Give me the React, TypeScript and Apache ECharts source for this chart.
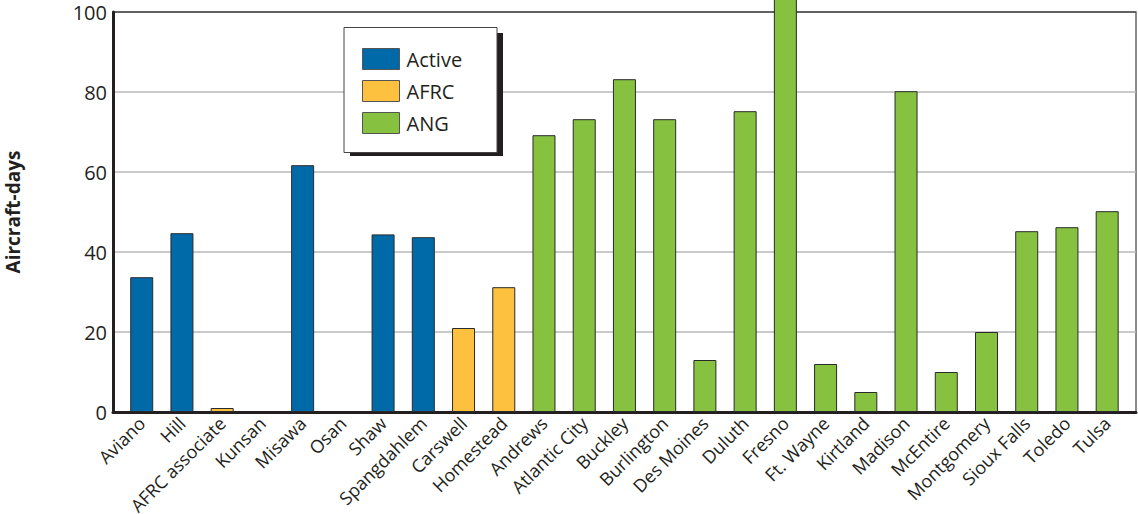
import React, { useEffect, useRef } from "react";
import * as echarts from "echarts";

const categories = [
  "Aviano", "Hill", "AFRC associate", "Kunsan", "Misawa", "Osan", "Shaw", "Spangdahlem",
  "Carswell", "Homestead",
  "Andrews", "Atlantic City", "Buckley", "Burlington", "Des Moines", "Duluth", "Fresno",
  "Ft. Wayne", "Kirtland", "Madison", "McEntire", "Montgomery", "Sioux Falls", "Toledo", "Tulsa",
];
const groupOf = [
  "Active", "Active", "AFRC", "Active", "Active", "Active", "Active", "Active",
  "AFRC", "AFRC",
  "ANG", "ANG", "ANG", "ANG", "ANG", "ANG", "ANG", "ANG", "ANG", "ANG", "ANG", "ANG", "ANG", "ANG", "ANG",
];
const values = [
  33.7, 44.7, 1, 0, 61.7, 0, 44.4, 43.7,
  21, 31.2,
  69.2, 73.2, 83.2, 73.2, 13, 75.2, 105, 12, 5, 80.2, 10, 20, 45.2, 46.2, 50.2,
];
const seriesNames = ["Active", "AFRC", "ANG"];
const seriesColors = ["#006aa9", "#fdc13f", "#86c23f"];
const yTicks = { min: 0, max: 100, interval: 20 };

export default function App() {
  const ref = useRef<HTMLDivElement>(null);
  useEffect(() => {
    if (!ref.current) return;
    const chart = echarts.init(ref.current, undefined, { renderer: "svg" });
    const font = "'Open Sans', 'Noto Sans', sans-serif";
    const series = seriesNames.map((name, si) => ({
      name,
      type: "bar",
      xAxisIndex: 1,
      yAxisIndex: 1,
      stack: "all",
      barWidth: 23,
      clip: false,
      itemStyle: { color: seriesColors[si], borderColor: "#2a2a2a", borderWidth: 1 },
      data: values.map((v, i) => (groupOf[i] === name && v > 0 ? v : "-")),
    }));
    chart.setOption({
      animation: false,
      textStyle: { fontFamily: font },
      grid: [
        { left: 113, right: 2, top: 12, bottom: 102, containLabel: false, outerBoundsMode: "none", show: true, borderColor: "#666", borderWidth: 1.5, backgroundColor: "transparent" },
        { left: 121.6, right: 10.7, top: 12, bottom: 102, containLabel: false, outerBoundsMode: "none" },
      ],
      xAxis: [
        {
          gridIndex: 0, type: "value", min: 0, max: 1,
          axisLine: { show: true, onZero: false, lineStyle: { color: "#231f20", width: 3 } },
          axisTick: { show: false }, axisLabel: { show: false }, splitLine: { show: false },
        },
        {
          gridIndex: 1, type: "category", data: categories,
          axisLine: { show: false }, axisTick: { show: false },
          axisLabel: { interval: 0, rotate: 45, fontSize: 18, color: "#231f20", margin: 8, fontFamily: font },
        },
      ],
      yAxis: [
        {
          gridIndex: 0, type: "value", ...yTicks,
          axisLine: { show: true, lineStyle: { color: "#231f20", width: 3 } },
          axisTick: { show: false },
          axisLabel: { fontSize: 20, color: "#231f20", margin: 6, fontFamily: font },
          splitLine: { show: true, lineStyle: { color: ["#b8b8b8", "#b8b8b8", "#b8b8b8", "#b8b8b8", "#b8b8b8", "#555"], width: 1.5 } },
          name: "Aircraft-days",
          nameLocation: "middle",
          nameRotate: 90,
          nameGap: 91,
          nameTextStyle: { fontSize: 19, fontWeight: "bold", color: "#231f20", fontFamily: font },
        },
        { gridIndex: 1, type: "value", ...yTicks, show: false },
      ],
      legend: {
        data: seriesNames.map((n, i) => ({
          name: n,
          icon: "rect",
          itemStyle: { color: seriesColors[i], borderColor: "#555", borderWidth: 1 },
        })),
        orient: "vertical",
        left: 362,
        top: 48,
        padding: 0,
        itemWidth: 37,
        itemHeight: 21,
        itemGap: 10,
        z: 10,
        textStyle: { fontSize: 20, color: "#231f20", padding: [0, 0, 0, 2], fontFamily: font },
        selectedMode: false,
      },
      graphic: [
        { type: "rect", z: 5, shape: { x: 350, y: 33, width: 153, height: 123 }, style: { fill: "#231f20" } },
        { type: "rect", z: 6, shape: { x: 344, y: 27.5, width: 153, height: 125 }, style: { fill: "#fff", stroke: "#444", lineWidth: 1 } },
      ],
      series,
    });
    return () => chart.dispose();
  }, []);
  return <div ref={ref} style={{ position: "absolute", left: 0, top: 0, width: 1138, height: 514 }} />;
}
